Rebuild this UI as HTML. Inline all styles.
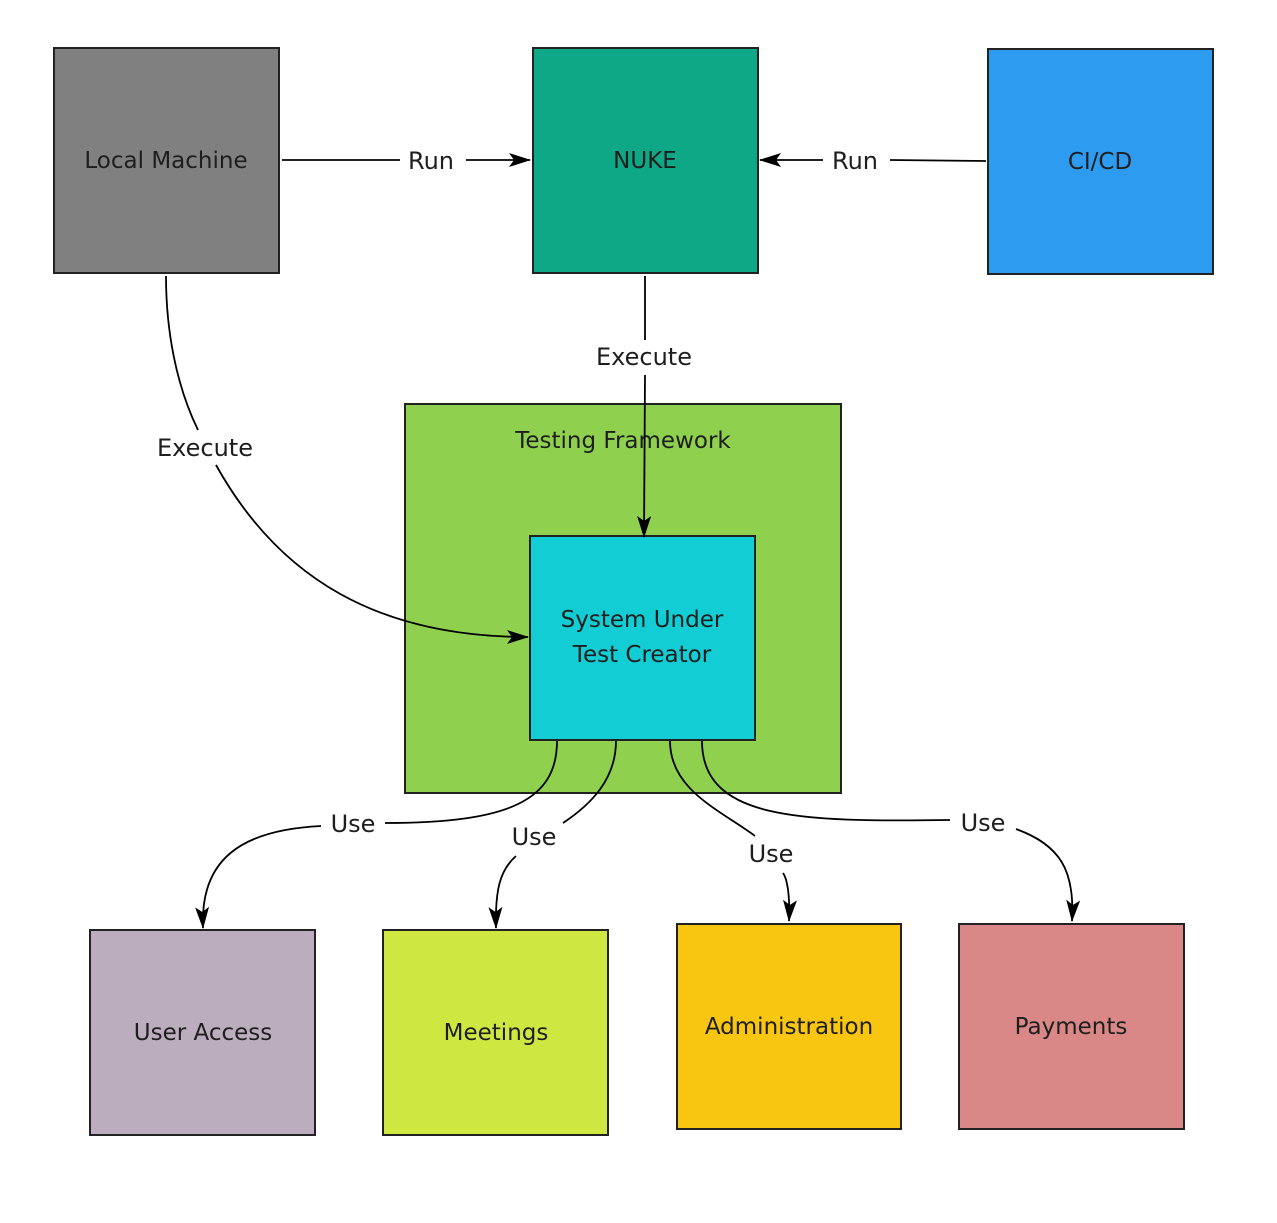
<!DOCTYPE html>
<html><head><meta charset="utf-8"><style>
html,body{margin:0;padding:0;background:#fff;}
svg{display:block;}
text{font-family:"DejaVu Sans","Liberation Sans",sans-serif;fill:#1e1e1e;}
</style></head><body>
<svg width="1277" height="1223" viewBox="0 0 1277 1223" xmlns="http://www.w3.org/2000/svg">
<defs>
<marker id="a" markerWidth="22" markerHeight="14" refX="21" refY="7" orient="auto" markerUnits="userSpaceOnUse">
<path d="M0,0 L22,7 L0,14 L5,7 Z" fill="#000"/>
</marker>
</defs>
<g stroke="#222" stroke-width="2">
<rect x="54" y="48" width="225" height="225" fill="#808080"/>
<rect x="533" y="48" width="225" height="225" fill="#0ea886"/>
<rect x="988" y="49" width="225" height="225" fill="#2d9bf0"/>
<rect x="405" y="404" width="436" height="389" fill="#8fd14f"/>
<rect x="530" y="536" width="225" height="204" fill="#12cdd4"/>
<rect x="90" y="930" width="225" height="205" fill="#bbadbd"/>
<rect x="383" y="930" width="225" height="205" fill="#cee741"/>
<rect x="677" y="924" width="224" height="205" fill="#f8c611"/>
<rect x="959" y="924" width="225" height="205" fill="#d98787"/>
</g>
<g font-size="23" text-anchor="middle">
<text x="166" y="168">Local Machine</text>
<text x="645" y="168">NUKE</text>
<text x="1100" y="169">CI/CD</text>
<text x="623" y="448">Testing Framework</text>
<text x="642" y="627">System Under</text>
<text x="642" y="662">Test Creator</text>
<text x="203" y="1040">User Access</text>
<text x="496" y="1040">Meetings</text>
<text x="789" y="1034">Administration</text>
<text x="1071" y="1034">Payments</text>
</g>
<g fill="none" stroke="#000" stroke-width="1.8">
<path d="M282,160 H400"/>
<path d="M466,160 H530" marker-end="url(#a)"/>
<path d="M986,161 L890,160"/>
<path d="M823,160 H760" marker-end="url(#a)"/>
<path d="M645,276 V340"/>
<path d="M645,375 L644,537" marker-end="url(#a)"/>
<path d="M166,276 C166,330 176,385 198,430"/>
<path d="M216,465 C280,580 380,637 528,637" marker-end="url(#a)"/>
<path d="M557,741 C557,800 510,823 385,823"/>
<path d="M321,826 C240,830 200,860 203,928" marker-end="url(#a)"/>
<path d="M616,741 C616,780 590,805 563,823"/>
<path d="M516,856 C500,870 495,890 496,928" marker-end="url(#a)"/>
<path d="M670,741 C670,790 720,810 755,836"/>
<path d="M783,873 C788,880 790,900 789,921" marker-end="url(#a)"/>
<path d="M702,741 C702,820 800,822 950,820"/>
<path d="M1016,829 C1060,845 1075,870 1072,921" marker-end="url(#a)"/>
</g>
<g font-size="24" text-anchor="middle" style="fill:#000">
<text x="431" y="169">Run</text>
<text x="855" y="169">Run</text>
<text x="644" y="365">Execute</text>
<text x="205" y="456">Execute</text>
<text x="353" y="832">Use</text>
<text x="534" y="845">Use</text>
<text x="771" y="862">Use</text>
<text x="983" y="831">Use</text>
</g>
</svg>
</body></html>
